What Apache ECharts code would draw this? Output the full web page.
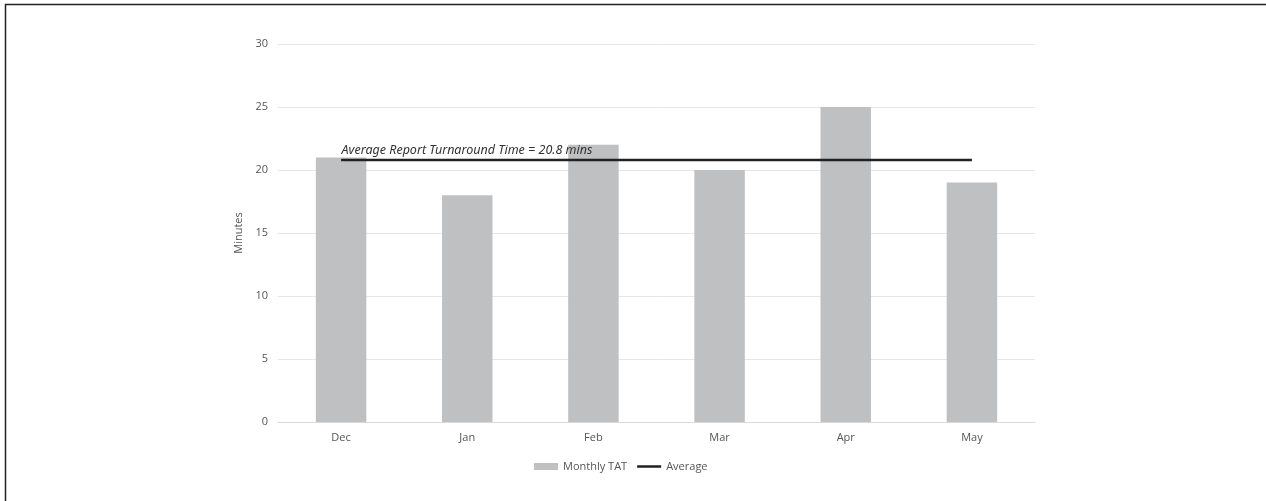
<!DOCTYPE html>
<html><head><meta charset="utf-8">
<script src="https://cdn.jsdelivr.net/npm/echarts@6/dist/echarts.min.js"></script>
<style>html,body{margin:0;padding:0;background:#fff}#c{width:1266px;height:501px}</style>
</head><body><div id="c"></div>
<script>
const categories = ['Dec','Jan','Feb','Mar','Apr','May'];
const monthlyTAT = [21, 18, 22, 20, 25, 19];
const averageValue = 20.8;
const averageLine = categories.map(() => averageValue);
const yTicks = [0, 5, 10, 15, 20, 25, 30];
const averageLabel = 'Average Report Turnaround Time = 20.8 mins';

const chart = echarts.init(document.getElementById('c'));
const font = '"Open Sans", "Noto Sans", sans-serif';
chart.setOption({
  animation: false,
  textStyle: { fontFamily: font },
  grid: { left: 278, right: 231, top: 44, bottom: 79 },
  legend: {
    left: 529, top: 456,
    itemGap: 10, itemWidth: 24, itemHeight: 7,
    textStyle: { fontSize: 11, color: '#555', fontFamily: font },
    data: [
      { name: 'Monthly TAT', icon: 'rect', itemStyle: { color: '#bfc0c2' } },
      { name: 'Average', icon: 'path://M0,0H24V2.5H0Z', itemStyle: { color: '#222' } }
    ]
  },
  xAxis: {
    type: 'category', data: categories,
    axisLine: { lineStyle: { color: '#d9d9d9' } },
    axisTick: { show: false },
    axisLabel: { color: '#555', fontSize: 11, margin: 10 }
  },
  yAxis: {
    type: 'value', min: yTicks[0], max: yTicks[yTicks.length - 1], interval: 5,
    name: 'Minutes', nameLocation: 'middle', nameGap: 20, nameRotate: 90,
    nameTextStyle: { color: '#555', fontSize: 11 },
    axisLine: { show: false }, axisTick: { show: false },
    axisLabel: { color: '#555', fontSize: 11, margin: 10 },
    splitLine: { lineStyle: { color: '#e6e6e6' } }
  },
  series: [
    {
      name: 'Monthly TAT', type: 'bar', data: monthlyTAT,
      barWidth: '40%', itemStyle: { color: '#bfc0c2' }
    },
    {
      name: 'Average', type: 'line', data: averageLine,
      symbol: 'none', lineStyle: { color: '#222', width: 2.5 },
      itemStyle: { color: '#222' },
      markPoint: {
        symbol: 'circle', symbolSize: 1,
        itemStyle: { color: 'rgba(0,0,0,0)' },
        data: [{ coord: [0, averageValue], value: 0 }],
        label: {
          show: true, formatter: averageLabel, position: 'right',
          distance: 0, offset: [0, -9],
          fontStyle: 'italic', fontSize: 12.5, color: '#333', fontFamily: '"Noto Sans", sans-serif'
        }
      },
      z: 5
    }
  ],
  graphic: [{
    type: 'polyline', silent: true,
    shape: { points: [[5.5, 501], [5.5, 4.5], [1266, 4.5]] },
    style: { stroke: '#222', lineWidth: 1.5, fill: null }
  }]
});
</script></body></html>
